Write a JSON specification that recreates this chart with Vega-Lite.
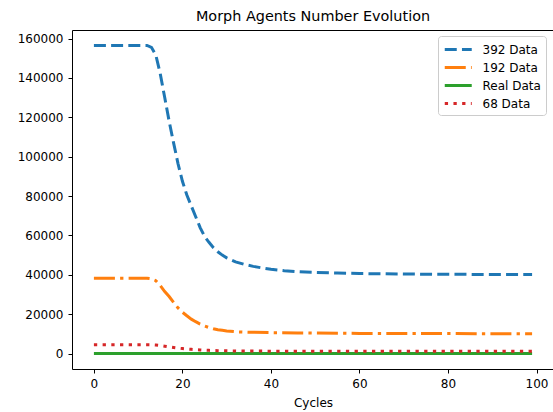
{
  "$schema": "https://vega.github.io/schema/vega-lite/v6.json",
  "autosize": {"type": "none"},
  "padding": {"left": 72, "top": 30, "right": 0, "bottom": 43},
  "width": 482,
  "height": 339,
  "background": "white",
  "title": {"text": "Morph Agents Number Evolution", "font": "DejaVu Sans", "fontSize": 14.4, "fontWeight": "normal", "color": "#000000", "offset": 6},
  "config": {
    "view": {"stroke": "#000000", "strokeWidth": 1},
    "axis": {"grid": false, "domain": false, "tickColor": "#000000", "tickSize": 4, "tickWidth": 1, "labelFont": "DejaVu Sans", "labelFontSize": 12, "labelColor": "#000000", "labelPadding": 5, "titleFont": "DejaVu Sans", "titleFontSize": 12, "titleFontWeight": "normal", "titleColor": "#000000"},
    "legend": {"labelFont": "DejaVu Sans", "labelFontSize": 12, "labelColor": "#000000"}
  },
  "data": {"values": [
    {"cycle": 0, "series": "392 Data", "value": 156500},
    {"cycle": 12, "series": "392 Data", "value": 156500},
    {"cycle": 13, "series": "392 Data", "value": 155500},
    {"cycle": 14, "series": "392 Data", "value": 151500},
    {"cycle": 15, "series": "392 Data", "value": 142000},
    {"cycle": 16, "series": "392 Data", "value": 130000},
    {"cycle": 17, "series": "392 Data", "value": 118000},
    {"cycle": 18, "series": "392 Data", "value": 107000},
    {"cycle": 19, "series": "392 Data", "value": 96500},
    {"cycle": 20, "series": "392 Data", "value": 87500},
    {"cycle": 21, "series": "392 Data", "value": 80500},
    {"cycle": 22, "series": "392 Data", "value": 75000},
    {"cycle": 23, "series": "392 Data", "value": 69500},
    {"cycle": 24, "series": "392 Data", "value": 64000},
    {"cycle": 25, "series": "392 Data", "value": 59500},
    {"cycle": 26, "series": "392 Data", "value": 56500},
    {"cycle": 27, "series": "392 Data", "value": 53800},
    {"cycle": 28, "series": "392 Data", "value": 51700},
    {"cycle": 29, "series": "392 Data", "value": 50000},
    {"cycle": 30, "series": "392 Data", "value": 48600},
    {"cycle": 32, "series": "392 Data", "value": 46600},
    {"cycle": 34, "series": "392 Data", "value": 45300},
    {"cycle": 36, "series": "392 Data", "value": 44300},
    {"cycle": 38, "series": "392 Data", "value": 43500},
    {"cycle": 40, "series": "392 Data", "value": 42800},
    {"cycle": 43, "series": "392 Data", "value": 42100},
    {"cycle": 46, "series": "392 Data", "value": 41600},
    {"cycle": 50, "series": "392 Data", "value": 41200},
    {"cycle": 55, "series": "392 Data", "value": 40900},
    {"cycle": 60, "series": "392 Data", "value": 40650},
    {"cycle": 70, "series": "392 Data", "value": 40400},
    {"cycle": 80, "series": "392 Data", "value": 40250},
    {"cycle": 90, "series": "392 Data", "value": 40200},
    {"cycle": 99, "series": "392 Data", "value": 40150},
    {"cycle": 0, "series": "192 Data", "value": 38300},
    {"cycle": 12, "series": "192 Data", "value": 38300},
    {"cycle": 13, "series": "192 Data", "value": 38000},
    {"cycle": 14, "series": "192 Data", "value": 37000},
    {"cycle": 15, "series": "192 Data", "value": 34500},
    {"cycle": 16, "series": "192 Data", "value": 31500},
    {"cycle": 17, "series": "192 Data", "value": 29000},
    {"cycle": 18, "series": "192 Data", "value": 26000},
    {"cycle": 19, "series": "192 Data", "value": 23200},
    {"cycle": 20, "series": "192 Data", "value": 21000},
    {"cycle": 21, "series": "192 Data", "value": 19200},
    {"cycle": 22, "series": "192 Data", "value": 17500},
    {"cycle": 23, "series": "192 Data", "value": 16200},
    {"cycle": 24, "series": "192 Data", "value": 15000},
    {"cycle": 25, "series": "192 Data", "value": 14000},
    {"cycle": 26, "series": "192 Data", "value": 13200},
    {"cycle": 27, "series": "192 Data", "value": 12600},
    {"cycle": 28, "series": "192 Data", "value": 12100},
    {"cycle": 29, "series": "192 Data", "value": 11800},
    {"cycle": 30, "series": "192 Data", "value": 11500},
    {"cycle": 32, "series": "192 Data", "value": 11100},
    {"cycle": 34, "series": "192 Data", "value": 10900},
    {"cycle": 36, "series": "192 Data", "value": 10800},
    {"cycle": 40, "series": "192 Data", "value": 10650},
    {"cycle": 46, "series": "192 Data", "value": 10500},
    {"cycle": 50, "series": "192 Data", "value": 10400},
    {"cycle": 60, "series": "192 Data", "value": 10250},
    {"cycle": 70, "series": "192 Data", "value": 10200},
    {"cycle": 80, "series": "192 Data", "value": 10150},
    {"cycle": 99, "series": "192 Data", "value": 10100},
    {"cycle": 0, "series": "Real Data", "value": 0},
    {"cycle": 20, "series": "Real Data", "value": 0},
    {"cycle": 40, "series": "Real Data", "value": 0},
    {"cycle": 60, "series": "Real Data", "value": 0},
    {"cycle": 80, "series": "Real Data", "value": 0},
    {"cycle": 99, "series": "Real Data", "value": 0},
    {"cycle": 0, "series": "68 Data", "value": 4540},
    {"cycle": 12, "series": "68 Data", "value": 4540},
    {"cycle": 13, "series": "68 Data", "value": 4510},
    {"cycle": 14, "series": "68 Data", "value": 4390},
    {"cycle": 15, "series": "68 Data", "value": 4120},
    {"cycle": 16, "series": "68 Data", "value": 3770},
    {"cycle": 17, "series": "68 Data", "value": 3420},
    {"cycle": 18, "series": "68 Data", "value": 3100},
    {"cycle": 19, "series": "68 Data", "value": 2800},
    {"cycle": 20, "series": "68 Data", "value": 2540},
    {"cycle": 21, "series": "68 Data", "value": 2330},
    {"cycle": 22, "series": "68 Data", "value": 2180},
    {"cycle": 23, "series": "68 Data", "value": 2020},
    {"cycle": 24, "series": "68 Data", "value": 1860},
    {"cycle": 25, "series": "68 Data", "value": 1730},
    {"cycle": 26, "series": "68 Data", "value": 1640},
    {"cycle": 27, "series": "68 Data", "value": 1560},
    {"cycle": 28, "series": "68 Data", "value": 1500},
    {"cycle": 30, "series": "68 Data", "value": 1410},
    {"cycle": 34, "series": "68 Data", "value": 1310},
    {"cycle": 38, "series": "68 Data", "value": 1260},
    {"cycle": 43, "series": "68 Data", "value": 1220},
    {"cycle": 50, "series": "68 Data", "value": 1195},
    {"cycle": 60, "series": "68 Data", "value": 1180},
    {"cycle": 70, "series": "68 Data", "value": 1170},
    {"cycle": 80, "series": "68 Data", "value": 1167},
    {"cycle": 99, "series": "68 Data", "value": 1164}
  ]},
  "mark": {"type": "line", "strokeWidth": 3, "strokeCap": "butt", "clip": true},
  "encoding": {
    "x": {"field": "cycle", "type": "quantitative", "title": "Cycles",
      "scale": {"domain": [-4.95, 103.95], "nice": false, "zero": false},
      "axis": {"values": [0, 20, 40, 60, 80, 100], "format": "d", "titlePadding": 8}},
    "y": {"field": "value", "type": "quantitative", "title": null,
      "scale": {"domain": [-7825, 164325], "nice": false, "zero": false},
      "axis": {"values": [0, 20000, 40000, 60000, 80000, 100000, 120000, 140000, 160000], "format": "d"}},
    "color": {"field": "series", "type": "nominal",
      "scale": {"domain": ["392 Data", "192 Data", "Real Data", "68 Data"], "range": ["#1f77b4", "#ff7f0e", "#2ca02c", "#d62728"]},
      "legend": {"title": null, "orient": "none", "legendX": 366, "legendY": 6, "symbolType": "M-1,0H3", "symbolSize": 182, "symbolStrokeWidth": 3, "labelOffset": 22.5, "rowPadding": 3, "padding": 5, "fillColor": "#ffffff", "strokeColor": "#cccccc", "cornerRadius": 3}},
    "strokeDash": {"field": "series", "type": "nominal",
      "scale": {"domain": ["392 Data", "192 Data", "Real Data", "68 Data"], "range": [[12, 5.2], [21, 5.2, 3.3, 5.2], [1, 0], [3.3, 5.4]]},
      "legend": null},
    "order": {"field": "cycle", "type": "quantitative"}
  }
}
